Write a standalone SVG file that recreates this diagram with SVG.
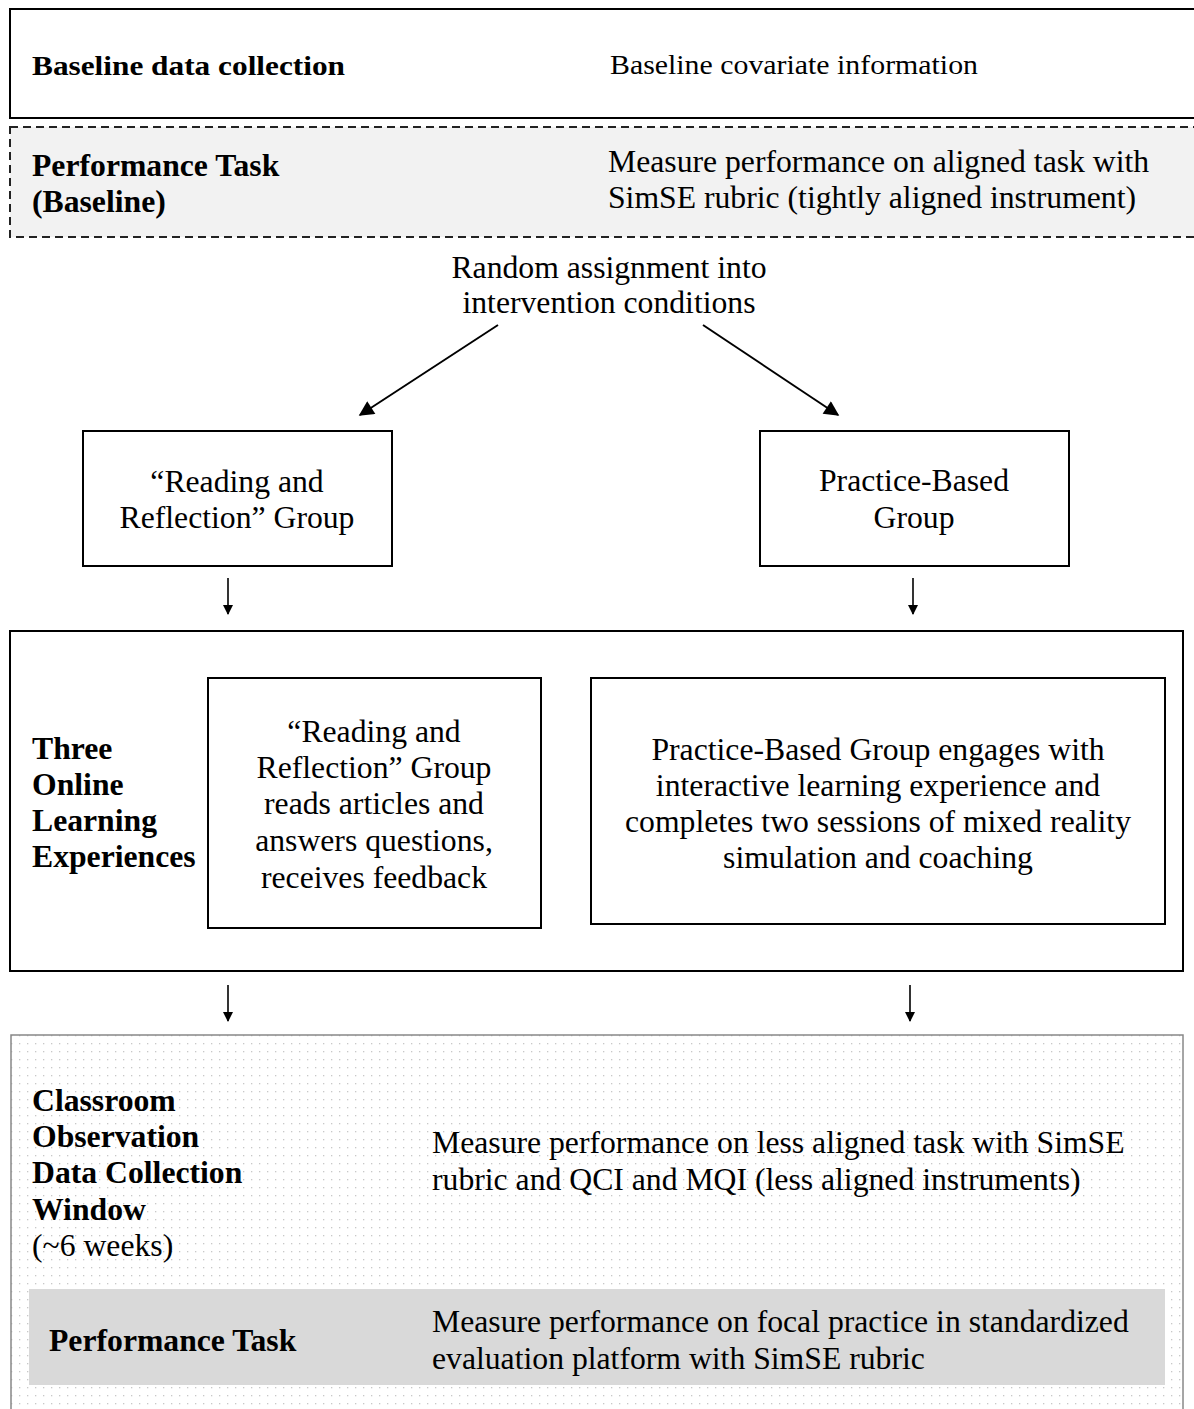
<svg xmlns="http://www.w3.org/2000/svg" width="1194" height="1409" viewBox="0 0 1194 1409">
<style>
text{font-family:"Liberation Serif","Times New Roman",serif;font-size:31.7px;fill:#000}
.b{font-weight:bold}
.m{text-anchor:middle}
.s{font-size:27.5px}
.box{fill:#fff;stroke:#000;stroke-width:2}
.conn{stroke:#000;fill:none}
</style>
<defs>
<marker id="ah" viewBox="0 0 10 10" refX="9" refY="5" markerUnits="userSpaceOnUse" markerWidth="19" markerHeight="15" orient="auto"><path d="M0,0 L10,5 L0,10 z" fill="#000"/></marker>
<marker id="as" viewBox="0 0 10 10" refX="9" refY="5" markerUnits="userSpaceOnUse" markerWidth="12" markerHeight="10" orient="auto"><path d="M0,0 L10,5 L0,10 z" fill="#000"/></marker>
<pattern id="dots" width="8" height="8" patternUnits="userSpaceOnUse"><rect width="8" height="8" fill="#fff"/><rect x="3" y="3" width="1.3" height="1.3" fill="#c8c8c8"/></pattern>
</defs>
<rect width="1194" height="1409" fill="#fff"/>

<g id="baseline-data">
<rect x="10" y="9" width="1200" height="109" class="box"/>
<text x="32" y="75" class="b s" textLength="313" lengthAdjust="spacingAndGlyphs">Baseline data collection</text>
<text x="610" y="74" class="s" textLength="368" lengthAdjust="spacingAndGlyphs">Baseline covariate information</text>
</g>

<g id="performance-baseline">
<rect x="10" y="127" width="1200" height="110" fill="#f2f2f2" stroke="#222" stroke-width="2" stroke-dasharray="8,5"/>
<text x="32" y="176" class="b">Performance Task</text>
<text x="32" y="212" class="b">(Baseline)</text>
<text x="608" y="172">Measure performance on aligned task with</text>
<text x="608" y="208">SimSE rubric (tightly aligned instrument)</text>
</g>

<g id="random-assignment">
<text x="609" y="278" class="m">Random assignment into</text>
<text x="609" y="313" class="m">intervention conditions</text>
</g>

<g id="reading-group">
<rect x="83" y="431" width="309" height="135" class="box"/>
<text x="237" y="492" class="m">“Reading and</text>
<text x="237" y="528" class="m">Reflection” Group</text>
</g>

<g id="practice-group">
<rect x="760" y="431" width="309" height="135" class="box"/>
<text x="914" y="491" class="m">Practice-Based</text>
<text x="914" y="528" class="m">Group</text>
</g>

<g id="online-learning">
<rect x="10" y="631" width="1173" height="340" class="box"/>
<text x="32" y="759" class="b">Three</text>
<text x="32" y="795" class="b">Online</text>
<text x="32" y="831" class="b">Learning</text>
<text x="32" y="867" class="b">Experiences</text>
</g>

<g id="reading-activity">
<rect x="208" y="678" width="333" height="250" class="box"/>
<text x="374" y="742" class="m">“Reading and</text>
<text x="374" y="778" class="m">Reflection” Group</text>
<text x="374" y="814" class="m">reads articles and</text>
<text x="374" y="851" class="m">answers questions,</text>
<text x="374" y="888" class="m">receives feedback</text>
</g>

<g id="practice-activity">
<rect x="591" y="678" width="574" height="246" class="box"/>
<text x="878" y="760" class="m">Practice-Based Group engages with</text>
<text x="878" y="796" class="m">interactive learning experience and</text>
<text x="878" y="832" class="m">completes two sessions of mixed reality</text>
<text x="878" y="868" class="m">simulation and coaching</text>
</g>

<g id="classroom-observation">
<rect x="11" y="1035" width="1172" height="400" fill="url(#dots)" stroke="#888" stroke-width="1.5"/>
<text x="32" y="1111" class="b">Classroom</text>
<text x="32" y="1147" class="b">Observation</text>
<text x="32" y="1183" class="b">Data Collection</text>
<text x="32" y="1220" class="b">Window</text>
<text x="32" y="1256">(~6 weeks)</text>
<text x="432" y="1153">Measure performance on less aligned task with SimSE</text>
<text x="432" y="1190">rubric and QCI and MQI (less aligned instruments)</text>
</g>

<g id="performance-task">
<rect x="29" y="1289" width="1136" height="96" fill="#d9d9d9"/>
<text x="49" y="1351" class="b">Performance Task</text>
<text x="432" y="1332">Measure performance on focal practice in standardized</text>
<text x="432" y="1369">evaluation platform with SimSE rubric</text>
</g>

<g id="connectors" class="conn">
<line x1="498" y1="325" x2="360" y2="415" stroke-width="2" marker-end="url(#ah)"/>
<line x1="703" y1="325" x2="838" y2="415" stroke-width="2" marker-end="url(#ah)"/>
<line x1="228" y1="578" x2="228" y2="614" stroke-width="1.6" marker-end="url(#as)"/>
<line x1="913" y1="578" x2="913" y2="614" stroke-width="1.6" marker-end="url(#as)"/>
<line x1="228" y1="985" x2="228" y2="1021" stroke-width="1.6" marker-end="url(#as)"/>
<line x1="910" y1="985" x2="910" y2="1021" stroke-width="1.6" marker-end="url(#as)"/>
</g>
</svg>
